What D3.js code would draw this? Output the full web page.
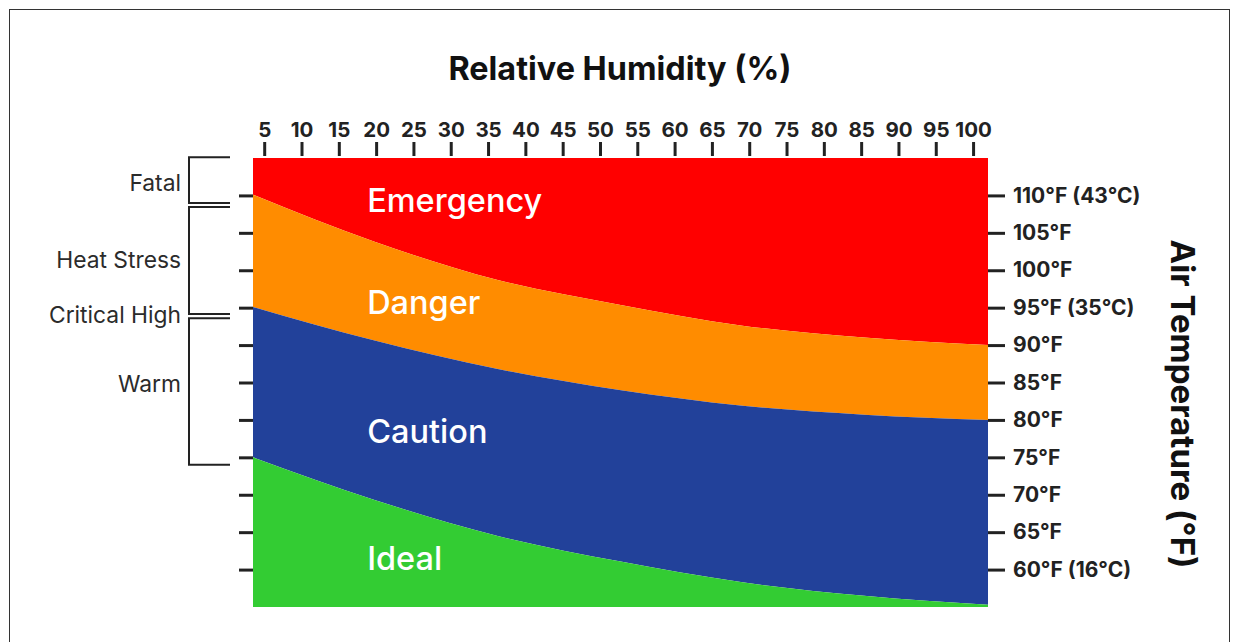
<!DOCTYPE html>
<html>
<head>
<meta charset="utf-8">
<script src="https://cdn.jsdelivr.net/npm/d3@7"></script>
<style>
  body { margin: 0; background: #fff; }
  svg { display: block; font-family: Inter, Roboto, sans-serif; }
</style>
</head>
<body>
<script>
const humidity = [3.5, 19.8, 36.3, 52.6, 69.1, 85.4, 102];
// air temperature (°F) at each edge, per band floor
const emergencyFloor = [110.1, 103.8, 98.7, 95.4, 92.6, 91.0, 90.0];
const dangerFloor = [95.1, 90.6, 86.8, 84.0, 81.9, 80.7, 80.0];
const cautionFloor = [75.0, 69.3, 64.5, 61.1, 58.3, 56.5, 55.3];

const bands = ["Emergency", "Danger", "Caution", "Ideal"];
const bandColors = ["#ff0000", "#ff8c00", "#22419a", "#33cc33"];

const rhTicks = [5, 10, 15, 20, 25, 30, 35, 40, 45, 50, 55, 60, 65, 70, 75, 80, 85, 90, 95, 100];
const tempTicks = [60, 65, 70, 75, 80, 85, 90, 95, 100, 105, 110];
const tempTickLabels = ["60°F (16°C)", "65°F", "70°F", "75°F", "80°F", "85°F", "90°F", "95°F (35°C)", "100°F", "105°F", "110°F (43°C)"];

const zones = ["Fatal", "Heat Stress", "Warm"];
const zoneTop = [115.1, 108.45, 93.6];
const zoneBottom = [109.0, 94.15, 74.0];

const width = 1239, height = 642;

const svg = d3.select("body").append("svg")
    .attr("width", width)
    .attr("height", height);

// frame
svg.append("rect")
    .attr("x", 9.5).attr("y", 9.5)
    .attr("width", 1220).attr("height", 700)
    .attr("fill", "none").attr("stroke", "#333").attr("stroke-width", 1);

const x = d3.scaleLinear().domain([3.5, 102]).range([253, 988]);
const y = d3.scaleLinear().domain([55, 115]).range([607, 158]);

const ceilEdge = humidity.map(() => 115);
const floorEdge = humidity.map(() => 55);
const edges = [ceilEdge, emergencyFloor, dangerFloor, cautionFloor, floorEdge];

const area = d3.area()
    .x(d => x(d.h))
    .y0(d => y(d.lo))
    .y1(d => y(d.hi))
    .curve(d3.curveMonotoneX);

bands.forEach((name, i) => {
  const pts = humidity.map((h, j) => ({h: h, hi: edges[i][j], lo: edges[i + 1][j]}));
  svg.append("path")
      .attr("d", area(pts))
      .attr("fill", bandColors[i]);
});

// band names
const labelT = [107.75, 94.1, 76.9, 59.95];
svg.append("g").selectAll("text")
  .data(bands)
  .join("text")
    .attr("x", x(18.8))
    .attr("y", (d, i) => y(labelT[i]))
    .attr("fill", "#fff")
    .attr("font-size", 32.5)
    .attr("font-weight", 500)
    .text(d => d);

// top axis
const xAxis = svg.append("g")
    .attr("transform", "translate(0,156)")
    .call(d3.axisTop(x).tickValues(rhTicks).tickSize(14).tickPadding(5));
xAxis.select(".domain").remove();
xAxis.selectAll(".tick line").attr("stroke", "#222").attr("stroke-width", 3);
xAxis.selectAll(".tick text")
    .attr("fill", "#222").attr("font-size", 20.5).attr("font-weight", 700)
    .attr("font-family", "Inter, Roboto, sans-serif");

// right axis
const rAxis = svg.append("g")
    .attr("transform", "translate(988,0)")
    .call(d3.axisRight(y).tickValues(tempTicks).tickSize(17).tickPadding(8)
      .tickFormat((d, i) => tempTickLabels[i]));
rAxis.select(".domain").remove();
rAxis.selectAll(".tick line").attr("stroke", "#222").attr("stroke-width", 3);
rAxis.selectAll(".tick text")
    .attr("fill", "#222").attr("font-size", 21).attr("font-weight", 700)
    .attr("font-family", "Inter, Roboto, sans-serif");

// left axis, ticks only
const lAxis = svg.append("g")
    .attr("transform", "translate(253,0)")
    .call(d3.axisLeft(y).tickValues(tempTicks).tickSize(14).tickFormat(""));
lAxis.select(".domain").remove();
lAxis.selectAll(".tick line").attr("stroke", "#222").attr("stroke-width", 3);

// zone brackets
zones.forEach((z, i) => {
  const y0 = y(zoneTop[i]), y1 = y(zoneBottom[i]);
  svg.append("path")
      .attr("d", `M230,${y0}H189V${y1}H230`)
      .attr("fill", "none")
      .attr("stroke", "#222")
      .attr("stroke-width", 2);
});

const zoneLabels = ["Fatal", "Heat Stress", "Critical High", "Warm"];
const zoneLabelT = [111.75, 101.45, 94.1, 84.8];
svg.append("g").selectAll("text")
  .data(zoneLabels)
  .join("text")
    .attr("x", 181)
    .attr("y", (d, i) => y(zoneLabelT[i]))
    .attr("dy", "0.36em")
    .attr("text-anchor", "end")
    .attr("fill", "#2b2b2b")
    .attr("font-size", 22.8)
    .text(d => d);

// titles
svg.append("text")
    .attr("x", 620).attr("y", 80)
    .attr("text-anchor", "middle")
    .attr("font-size", 32.4).attr("font-weight", 700)
    .attr("fill", "#111")
    .text("Relative Humidity (%)");

svg.append("text")
    .attr("transform", "translate(1171,404) rotate(90)")
    .attr("text-anchor", "middle")
    .attr("font-size", 33).attr("font-weight", 700)
    .attr("fill", "#111")
    .text("Air Temperature (°F)");
</script>
</body>
</html>
